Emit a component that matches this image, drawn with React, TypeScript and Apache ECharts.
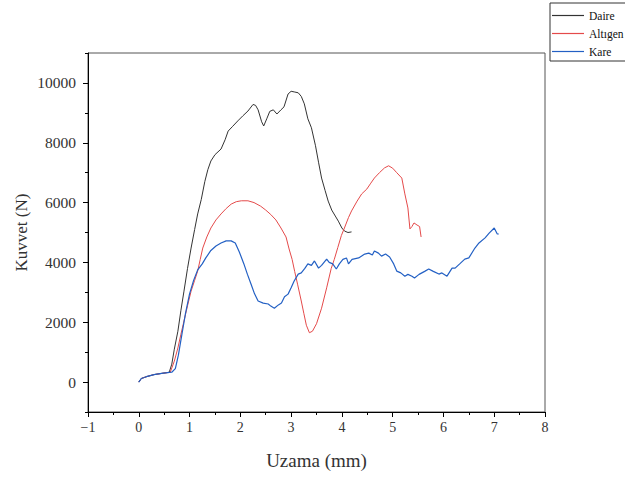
import React, { useEffect, useRef } from "react";
import * as echarts from "echarts";

const seriesNames = ["Daire", "Altıgen", "Kare"];

const daire: [number, number][] = [
  [0, 0], [0.05, 120], [0.15, 180], [0.3, 250], [0.45, 290], [0.6, 330], [0.65, 600], [0.7, 1100],
  [0.77, 1700], [0.83, 2400], [0.89, 3040], [0.96, 3800], [1.03, 4480], [1.1, 5100], [1.16, 5620],
  [1.23, 6100], [1.3, 6700], [1.36, 7100], [1.42, 7390], [1.5, 7600], [1.62, 7790], [1.7, 8100],
  [1.76, 8390], [1.85, 8550], [1.95, 8730], [2.05, 8900], [2.15, 9060], [2.25, 9280], [2.3, 9250],
  [2.35, 9100], [2.42, 8700], [2.46, 8560], [2.52, 8800], [2.58, 9050], [2.65, 9100], [2.72, 8960],
  [2.8, 9100], [2.86, 9200], [2.94, 9630], [3.0, 9720], [3.06, 9700], [3.14, 9670], [3.2, 9550],
  [3.26, 9300], [3.33, 8800], [3.4, 8500], [3.48, 7900], [3.54, 7350], [3.6, 6820], [3.67, 6400],
  [3.73, 6050], [3.8, 5750], [3.87, 5550], [3.93, 5380], [4.0, 5150], [4.05, 5050], [4.12, 5000],
  [4.19, 5020],
];

const altigen: [number, number][] = [
  [0, 0], [0.05, 120], [0.15, 180], [0.3, 250], [0.45, 290], [0.62, 330], [0.7, 700], [0.77, 1140],
  [0.83, 1600], [0.89, 2040], [0.96, 2550], [1.03, 3040], [1.1, 3400], [1.16, 3710], [1.21, 4100],
  [1.26, 4480], [1.34, 4850], [1.42, 5150], [1.52, 5420], [1.62, 5620], [1.72, 5800], [1.82, 5950],
  [1.92, 6030], [2.02, 6060], [2.15, 6060], [2.27, 6000], [2.4, 5880], [2.5, 5750], [2.6, 5600],
  [2.7, 5420], [2.8, 5150], [2.9, 4850], [2.96, 4450], [3.02, 4100], [3.07, 3700], [3.13, 3250],
  [3.2, 2710], [3.25, 2300], [3.3, 1900], [3.36, 1650], [3.42, 1700], [3.5, 1950], [3.6, 2470],
  [3.7, 3150], [3.79, 3800], [3.85, 4100], [3.92, 4500], [3.99, 4900], [4.05, 5150], [4.13, 5500],
  [4.19, 5720], [4.3, 6050], [4.39, 6290], [4.49, 6450], [4.57, 6650], [4.64, 6820], [4.74, 7000],
  [4.84, 7160], [4.92, 7230], [5.0, 7150], [5.08, 7000], [5.18, 6820], [5.24, 6290], [5.3, 5820],
  [5.34, 5120], [5.38, 5200], [5.42, 5320], [5.48, 5250], [5.53, 5200], [5.56, 4850],
];

const kare: [number, number][] = [
  [0, 0], [0.05, 120], [0.15, 180], [0.3, 250], [0.45, 290], [0.65, 330], [0.72, 450], [0.78, 900],
  [0.85, 1600], [0.92, 2300], [1.0, 2950], [1.08, 3400], [1.16, 3750], [1.25, 3950], [1.32, 4150],
  [1.42, 4400], [1.52, 4550], [1.62, 4650], [1.72, 4720], [1.82, 4720], [1.9, 4650], [1.98, 4350],
  [2.07, 3950], [2.14, 3600], [2.21, 3280], [2.28, 2950], [2.35, 2710], [2.45, 2640], [2.55, 2610],
  [2.6, 2540], [2.67, 2470], [2.75, 2580], [2.81, 2640], [2.87, 2850], [2.94, 2940], [3.0, 3150],
  [3.06, 3380], [3.14, 3610], [3.2, 3650], [3.27, 3800], [3.33, 3950], [3.4, 3900], [3.46, 4050],
  [3.54, 3810], [3.6, 3900], [3.7, 4110], [3.75, 4000], [3.82, 3950], [3.89, 3780], [3.95, 3950],
  [4.02, 4100], [4.09, 4150], [4.13, 3950], [4.2, 4100], [4.33, 4150], [4.45, 4280], [4.53, 4310],
  [4.6, 4250], [4.64, 4380], [4.72, 4310], [4.78, 4210], [4.86, 4280], [4.94, 4180], [5.02, 3950],
  [5.08, 3710], [5.16, 3650], [5.24, 3540], [5.3, 3600], [5.38, 3540], [5.43, 3480], [5.52, 3600],
  [5.63, 3700], [5.71, 3780], [5.8, 3700], [5.91, 3610], [5.97, 3650], [6.07, 3540], [6.17, 3810],
  [6.23, 3810], [6.32, 3950], [6.42, 4110], [6.5, 4150], [6.62, 4480], [6.7, 4650], [6.82, 4820],
  [6.9, 4980], [7.0, 5150], [7.06, 4950], [7.09, 4950],
];

const yMajorTicks = [0, 2000, 4000, 6000, 8000, 10000];
const yMinorTicks = [-1000, 1000, 3000, 5000, 7000, 9000, 11000];

const FONT = "Liberation Serif";
const colors = ["#333333", "#e44a4a", "#2360c4"];

export default function App() {
  const ref = useRef<HTMLDivElement>(null);
  useEffect(() => {
    if (!ref.current) return;
    const chart = echarts.init(ref.current, undefined, { renderer: "svg" });
    chart.setOption({
      animation: false,
      backgroundColor: "#fff",
      grid: {
        left: 88,
        right: 80,
        top: 53,
        bottom: 65,
        show: true,
        borderColor: "#555",
        borderWidth: 1,
        backgroundColor: "transparent",
      },
      legend: {
        data: seriesNames.map((n, i) => ({ name: n, itemStyle: { color: colors[i] } })),
        orient: "vertical",
        left: 550,
        top: 3,
        padding: [6, 40, 3, 2],
        icon: "rect",
        itemWidth: 32,
        itemHeight: 1.2,
        itemGap: 5,
        borderColor: "#333",
        borderWidth: 1,
        textStyle: { fontFamily: FONT, fontSize: 11.5, color: "#111", lineHeight: 13 },
      },
      xAxis: {
        type: "value",
        min: -1,
        max: 8,
        interval: 1,
        name: "Uzama (mm)",
        nameLocation: "middle",
        nameGap: 39,
        nameTextStyle: { fontFamily: FONT, fontSize: 19, color: "#333" },
        axisLine: { onZero: false, lineStyle: { color: "#000", width: 1 } },
        axisTick: { show: true, inside: false, length: 5, lineStyle: { color: "#000" } },
        minorTick: { show: true, splitNumber: 2, length: 3, lineStyle: { color: "#000" } },
        axisLabel: {
          fontFamily: FONT,
          fontSize: 14,
          color: "#333",
          margin: 8,
          formatter: (v: number) => (v < 0 ? "\u2212" + Math.abs(v) : String(v)),
        },
        splitLine: { show: false },
      },
      yAxis: [
        {
          type: "value",
          min: -1000,
          max: 11000,
          name: "Kuvvet (N)",
          nameLocation: "middle",
          nameGap: 58,
          nameMoveOverlap: false,
          nameTextStyle: { fontFamily: FONT, fontSize: 17, color: "#333" },
          axisLine: { onZero: false, lineStyle: { color: "#000", width: 1 } },
          axisTick: { show: true, inside: false, length: 5, customValues: yMajorTicks, lineStyle: { color: "#000" } },
          axisLabel: {
            fontFamily: FONT,
            fontSize: 15.5,
            color: "#333",
            margin: 12,
            customValues: yMajorTicks,
            formatter: (v: number) => String(v),
          },
          splitLine: { show: false },
        },
        {
          type: "value",
          position: "left",
          min: -1000,
          max: 11000,
          axisLine: { show: false, onZero: false },
          axisTick: { show: true, inside: false, length: 3, customValues: yMinorTicks, lineStyle: { color: "#000" } },
          axisLabel: { show: false },
          splitLine: { show: false },
        },
      ],
      series: [
        { name: seriesNames[0], type: "line", data: daire, showSymbol: false, symbol: "none", color: colors[0], lineStyle: { width: 1, color: colors[0] } },
        { name: seriesNames[1], type: "line", data: altigen, showSymbol: false, symbol: "none", color: colors[1], lineStyle: { width: 1, color: colors[1] } },
        { name: seriesNames[2], type: "line", data: kare, showSymbol: false, symbol: "none", color: colors[2], lineStyle: { width: 1.2, color: colors[2] } },
      ],
    });
    return () => chart.dispose();
  }, []);
  return <div ref={ref} style={{ position: "absolute", left: 0, top: 0, width: 625, height: 477 }} />;
}
